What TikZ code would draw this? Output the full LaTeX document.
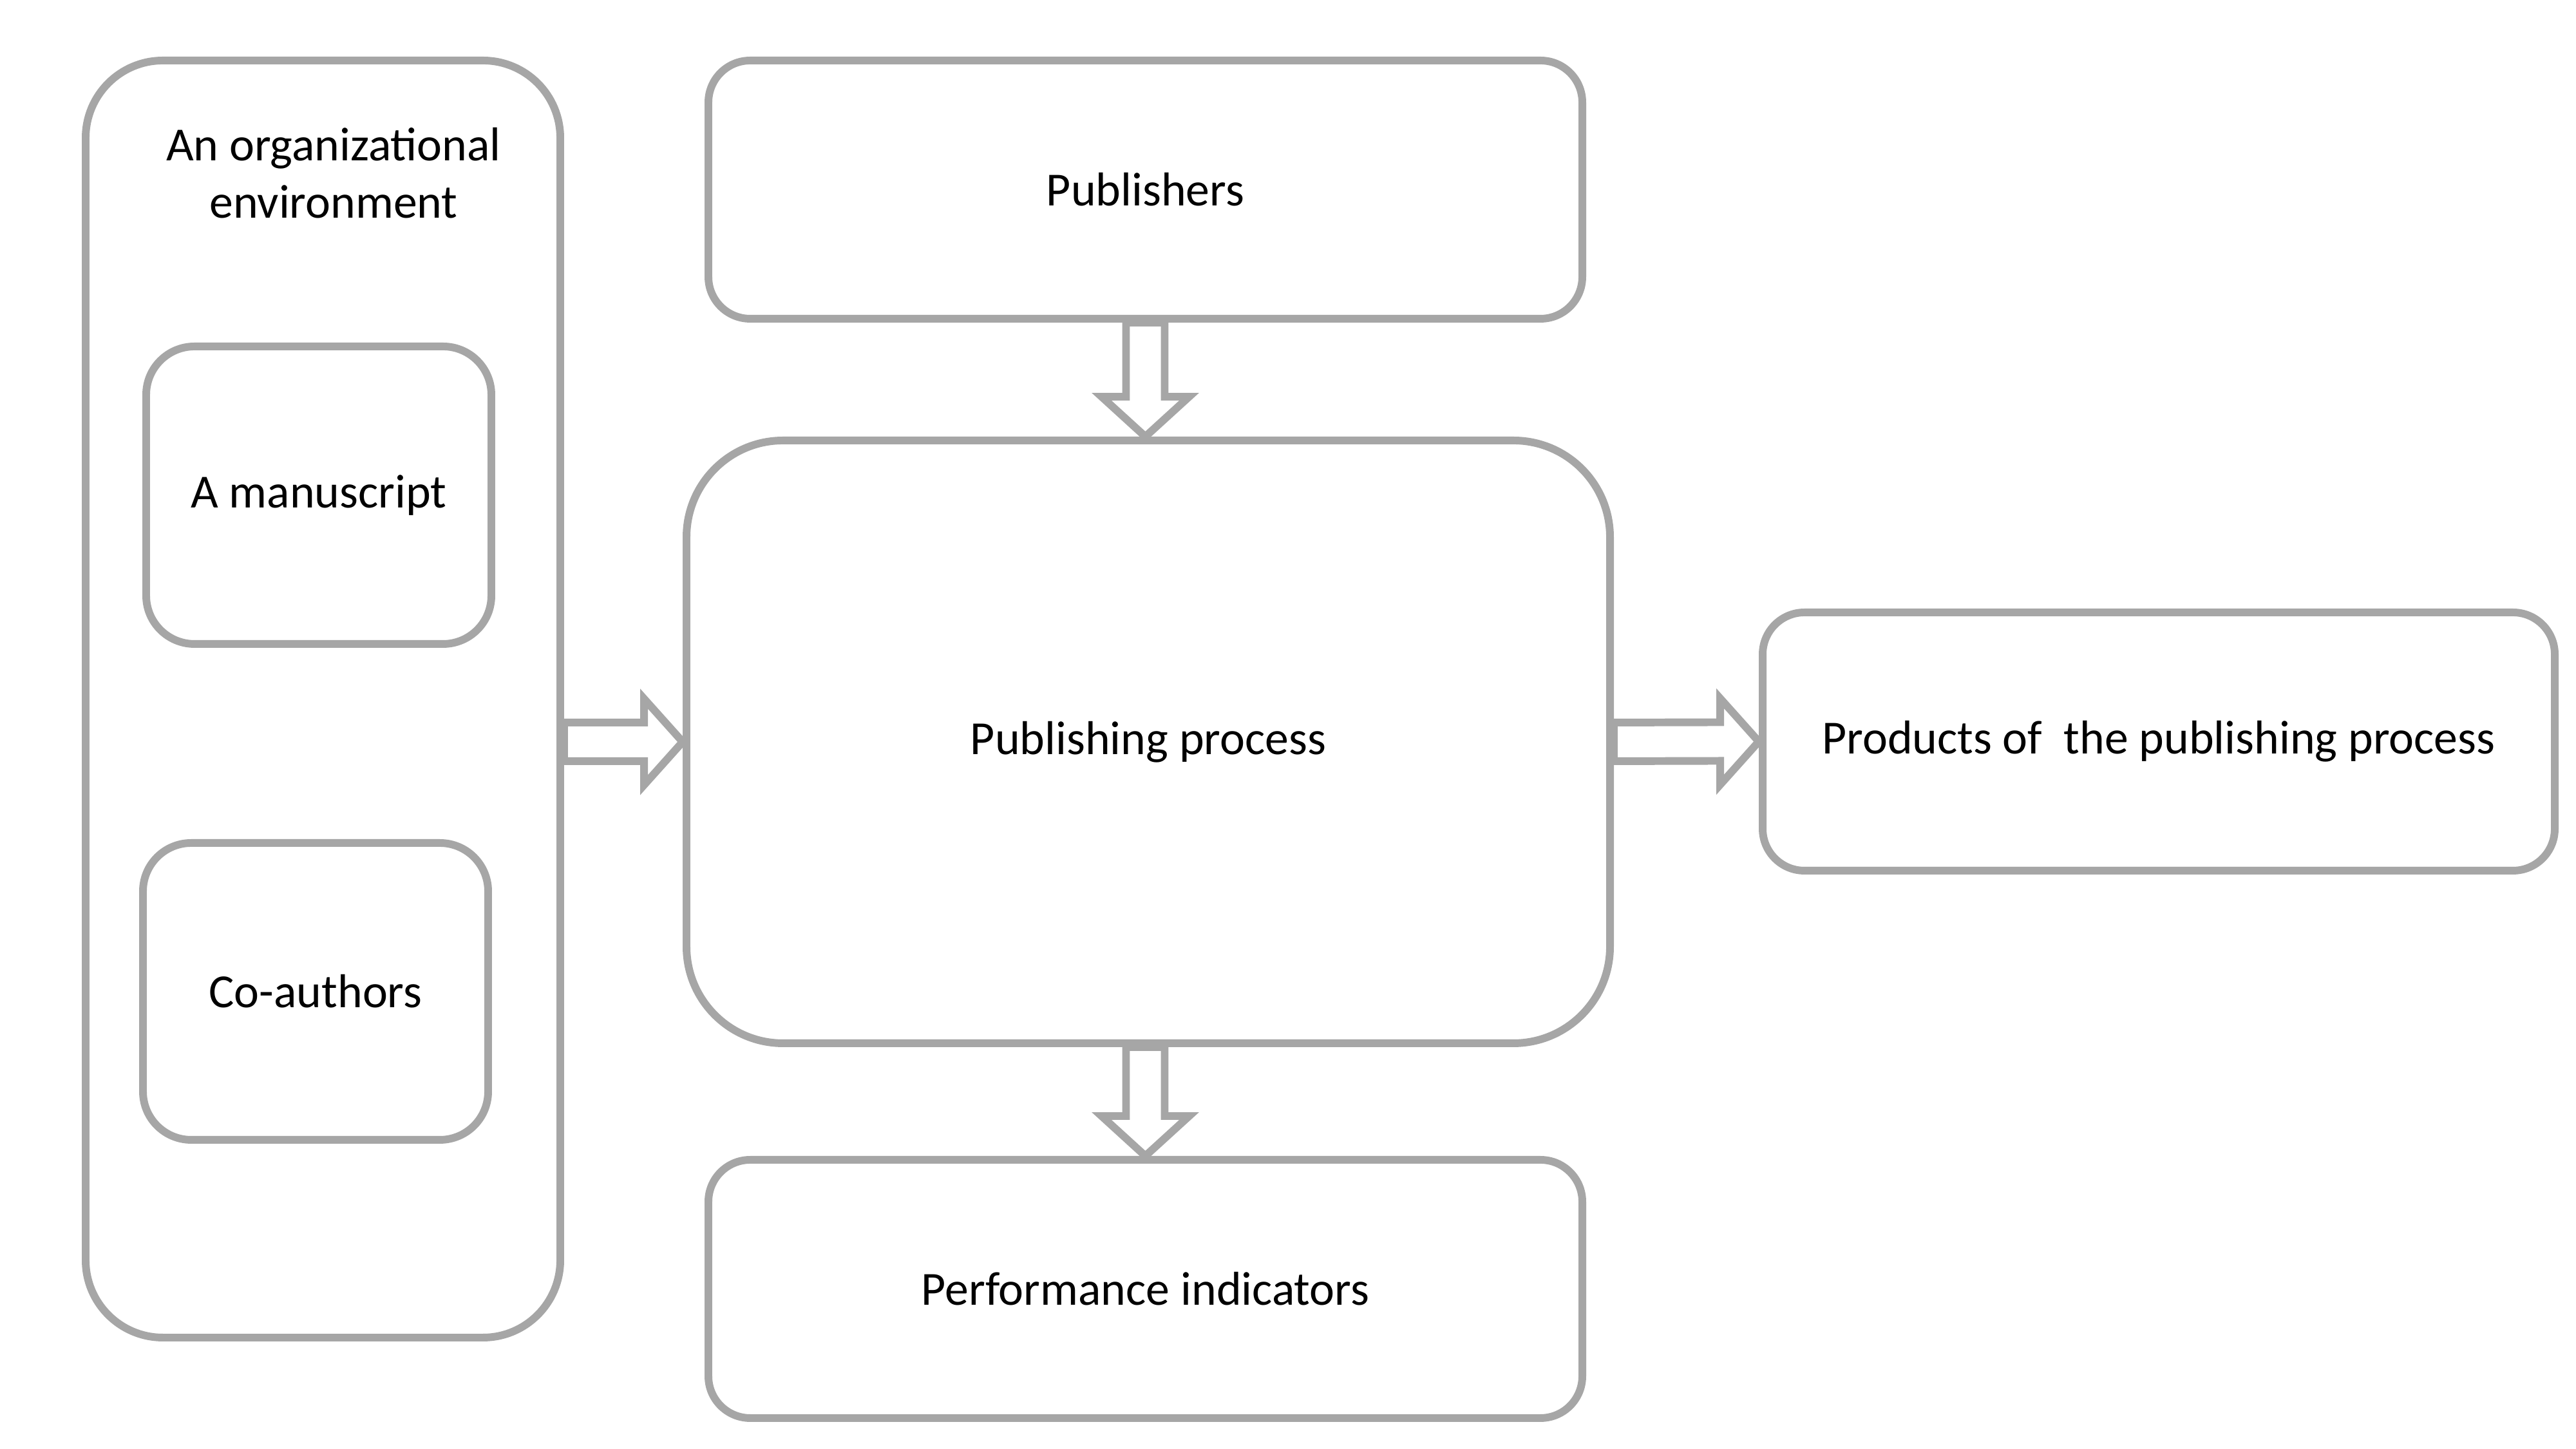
\documentclass[tikz,border=0pt]{standalone}
\usepackage{fontspec}
\setmainfont{Carlito}
\usetikzlibrary{calc, backgrounds}
\definecolor{boxgray}{RGB}{166,166,166}

\begin{document}
\begin{tikzpicture}[
box/.style={rectangle, draw=boxgray, line width=3.4pt, fill=white, rounded corners=#1, inner sep=0pt, font=\fontsize{21}{25.3}\selectfont},
box/.default=0.7cm,
lbl/.style={align=center, font=\fontsize{21}{25.3}\selectfont},
blockarrow/.style={draw=boxgray, line width=3.4pt, fill=white, line join=miter}
]
\useasboundingbox (0,0) rectangle (40,22.5);

% Organizational environment
\node[box=1.2cm, minimum width=7.37cm, minimum height=19.83cm] (org) at (5.015,11.645) {};
\node[lbl] (orglbl) at (5.18,19.81) {An organizational\\environment};
\node[box=0.75cm, minimum width=5.36cm, minimum height=4.62cm] (man) at (4.95,14.81) {A manuscript};
\node[box=0.75cm, minimum width=5.36cm, minimum height=4.61cm] (coauth) at (4.90,7.105) {Co-authors};

% Publishing
\node[box=0.65cm, minimum width=13.57cm, minimum height=4.01cm] (pub) at (17.785,19.555) {Publishers};
\node[box=1.5cm, minimum width=14.34cm, minimum height=9.36cm] (proc) at (17.83,10.98) {Publishing process};
\node[box=0.65cm, minimum width=12.3cm, minimum height=4.01cm] (prod) at (33.52,10.985) {Products of\ \ the publishing process};
\node[box=0.65cm, minimum width=13.57cm, minimum height=4.01cm] (perf) at (17.785,2.485) {Performance indicators};

% Block arrows
\coordinate (d1tip) at (pub.south |- proc.north);
\coordinate (d2top) at (perf.north |- proc.south);
\coordinate (r1base) at (org.east |- proc.west);

\begin{scope}[on background layer]
\foreach \a/\b in {pub.south/d1tip, d2top/perf.north}
  \draw[blockarrow] ($(\a)+(-0.3,0)$) -- ($(\b)+(-0.3,0.62)$) -- ($(\b)+(-0.68,0.62)$) -- (\b)
    -- ($(\b)+(0.68,0.62)$) -- ($(\b)+(0.3,0.62)$) -- ($(\a)+(0.3,0)$) -- cycle;
\foreach \a/\b in {r1base/proc.west, proc.east/prod.west}
  \draw[blockarrow] ($(\a)+(0,0.3)$) -- ($(\b)+(-0.6,0.3)$) -- ($(\b)+(-0.6,0.67)$) -- (\b)
    -- ($(\b)+(-0.6,-0.67)$) -- ($(\b)+(-0.6,-0.3)$) -- ($(\a)+(0,-0.3)$) -- cycle;
\end{scope}

\end{tikzpicture}
\end{document}
